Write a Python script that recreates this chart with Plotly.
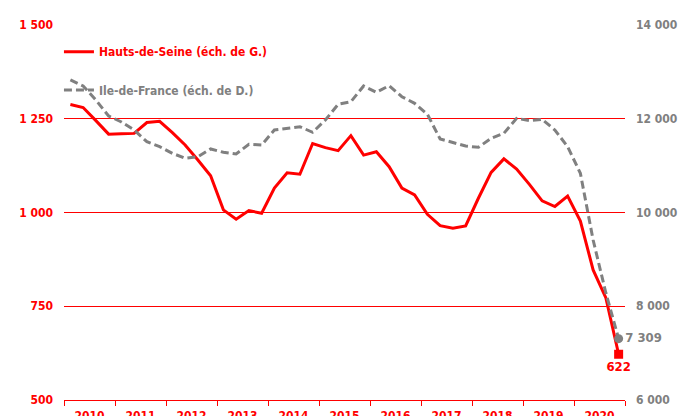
import plotly.graph_objects as go

# Quarterly series, 2010 T1 -> 2020 T4
years = list(range(2010, 2021))
quarters = [1, 2, 3, 4]

hauts_de_seine = [
    1288, 1280, 1245, 1209, 1210, 1211, 1240, 1243,
    1213, 1180, 1140, 1098, 1007, 982, 1005, 998,
    1065, 1106, 1102, 1184, 1173, 1165, 1205, 1153,
    1162, 1122, 1065, 1047, 995, 965, 958, 964,
    1038, 1107, 1143, 1116, 1075, 1031, 1016, 1044,
    977, 847, 772, 622,
]

ile_de_france = [
    12827, 12699, 12400, 12059, 11931, 11760, 11510, 11404,
    11263, 11156, 11190, 11355, 11284, 11248, 11455, 11440,
    11760, 11796, 11830, 11711, 11973, 12308, 12364, 12699,
    12564, 12705, 12470, 12329, 12095, 11568, 11489, 11419,
    11391, 11583, 11690, 12010, 11959, 11988, 11760, 11404,
    10836, 9413, 8283, 7309,
]

RED = "#FF0000"
GREY = "#808080"
FONT = "DejaVu Sans Condensed, Open Sans, sans-serif"

# quarter q of year Y sits inside the year's slot, centred on Y
x = [y - 0.375 + (q - 1) * 0.25 for y in years for q in quarters]


def fmt(v):
    return f"{v:,}".replace(",", " ")


fig = go.Figure()

# Hauts-de-Seine (left scale)
fig.add_trace(go.Scatter(
    x=x, y=hauts_de_seine,
    mode="lines",
    name="Hauts-de-Seine (éch. de G.)",
    line=dict(color=RED, width=3),
    legend="legend",
    yaxis="y",
))

# Ile-de-France (right scale)
fig.add_trace(go.Scatter(
    x=x, y=ile_de_france,
    mode="lines",
    name="Ile-de-France (éch. de D.)",
    line=dict(color=GREY, width=3, dash="8px,4px"),
    legend="legend2",
    yaxis="y2",
))

# Last-point markers with their values
fig.add_trace(go.Scatter(
    x=[x[-1]], y=[hauts_de_seine[-1]],
    mode="markers+text",
    marker=dict(symbol="square", size=9, color=RED),
    text=[fmt(hauts_de_seine[-1])],
    textposition="bottom center",
    textfont=dict(color=RED, size=13, weight="bold"),
    cliponaxis=False,
    showlegend=False,
    yaxis="y",
))

fig.add_trace(go.Scatter(
    x=[x[-1]], y=[ile_de_france[-1]],
    mode="markers+text",
    marker=dict(symbol="circle", size=9, color=GREY),
    text=[fmt(ile_de_france[-1])],
    textposition="middle right",
    textfont=dict(color=GREY, size=13, weight="bold"),
    cliponaxis=False,
    showlegend=False,
    yaxis="y2",
))

# the page body adds an 8px offset, margins are set to compensate
fig.update_layout(
    width=693,
    height=416,
    margin=dict(l=56, r=76, t=17, b=24),
    plot_bgcolor="white",
    paper_bgcolor="white",
    separators=", ",
    font=dict(family=FONT),
    xaxis=dict(
        range=[2009.5, 2020.5],
        tickmode="linear", tick0=2010, dtick=1,
        ticks="outside", ticklen=5, tickcolor="rgba(0,0,0,0)",
        tickfont=dict(color=RED, size=12, weight="bold"),
        showline=True, linecolor=RED, linewidth=1,
        showgrid=False, zeroline=False,
        automargin=False,
        minor=dict(ticks="outside", tick0=2009.5, dtick=1, ticklen=5,
                   tickcolor=RED, tickwidth=1, showgrid=False),
    ),
    yaxis=dict(
        range=[500, 1500],
        tickmode="linear", tick0=500, dtick=250,
        tickformat=",d",
        tickfont=dict(color=RED, size=12, weight="bold"),
        showgrid=True, gridcolor=RED, gridwidth=1,
        zeroline=False, showline=False,
        ticklabelstandoff=10,
        automargin=False,
    ),
    yaxis2=dict(
        overlaying="y", side="right",
        range=[6000, 14000],
        tickmode="linear", tick0=6000, dtick=2000,
        tickformat=",d",
        tickfont=dict(color=GREY, size=12, weight="bold"),
        showgrid=False, zeroline=False, showline=False,
        ticklabelstandoff=10,
        automargin=False,
    ),
    legend=dict(
        x=-0.009, y=0.929, xanchor="left", yanchor="middle",
        bgcolor="rgba(0,0,0,0)",
        font=dict(color=RED, size=12, weight="bold"),
    ),
    legend2=dict(
        x=-0.009, y=0.827, xanchor="left", yanchor="middle",
        bgcolor="rgba(0,0,0,0)",
        font=dict(color=GREY, size=12, weight="bold"),
    ),
)

fig.write_html("out.html")
